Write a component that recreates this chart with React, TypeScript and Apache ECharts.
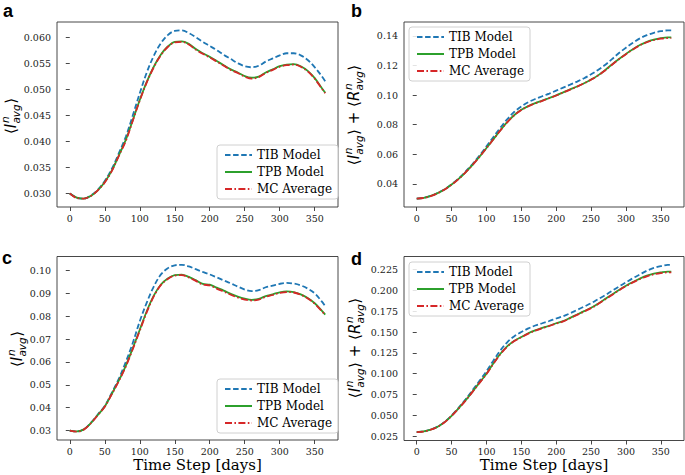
import React, { useEffect, useRef } from "react";
import * as echarts from "echarts";

// ---------------- data ----------------
const days = [0, 10, 20, 30, 40, 50, 60, 70, 80, 90, 100, 110, 120, 130, 140, 150, 160, 170, 180, 190, 200, 210, 220, 230, 240, 250, 260, 270, 280, 290, 300, 310, 320, 330, 340, 350, 360, 365];
const xTicks = [0, 50, 100, 150, 200, 250, 300, 350];
const seriesNames = ["TIB Model", "TPB Model", "MC Average"];
const panelLetters = ["a", "b", "c", "d"];
const xName = "Time Step [days]";

// panel a: <I_avg>
const aTIB = [0.0300, 0.0292, 0.0290, 0.0296, 0.0307, 0.0324, 0.0347, 0.0377, 0.0409, 0.0450, 0.0493, 0.0533, 0.0565, 0.0589, 0.0605, 0.0613, 0.0614, 0.0609, 0.0601, 0.0592, 0.0584, 0.0576, 0.0567, 0.0559, 0.0551, 0.0545, 0.0543, 0.0546, 0.0554, 0.0560, 0.0566, 0.0570, 0.0570, 0.0566, 0.0557, 0.0543, 0.0526, 0.0516];
const aTPB = [0.0300, 0.0292, 0.0290, 0.0295, 0.0306, 0.0322, 0.0344, 0.0373, 0.0403, 0.0441, 0.0480, 0.0515, 0.0544, 0.0567, 0.0583, 0.0592, 0.0593, 0.0588, 0.0578, 0.0570, 0.0563, 0.0555, 0.0547, 0.0539, 0.0533, 0.0526, 0.0523, 0.0525, 0.0533, 0.0539, 0.0545, 0.0548, 0.0549, 0.0545, 0.0536, 0.0522, 0.0503, 0.0494];
const aMC = [0.0300, 0.0291, 0.0290, 0.0295, 0.0306, 0.0321, 0.0343, 0.0372, 0.0401, 0.0440, 0.0479, 0.0514, 0.0543, 0.0566, 0.0582, 0.0591, 0.0592, 0.0587, 0.0577, 0.0569, 0.0562, 0.0554, 0.0546, 0.0538, 0.0532, 0.0525, 0.0521, 0.0524, 0.0532, 0.0538, 0.0544, 0.0547, 0.0548, 0.0544, 0.0535, 0.0521, 0.0502, 0.0493];

// panel b: <I_avg> + <R_avg>
const bTIB = [0.0300, 0.0305, 0.0318, 0.0338, 0.0363, 0.0397, 0.0436, 0.0482, 0.0534, 0.0591, 0.0653, 0.0716, 0.0780, 0.0838, 0.0887, 0.0923, 0.0952, 0.0973, 0.0992, 0.1010, 0.1030, 0.1050, 0.1070, 0.1091, 0.1114, 0.1140, 0.1170, 0.1203, 0.1243, 0.1284, 0.1320, 0.1353, 0.1383, 0.1405, 0.1421, 0.1432, 0.1437, 0.1437];
const bTPB = [0.0300, 0.0305, 0.0318, 0.0337, 0.0362, 0.0395, 0.0433, 0.0478, 0.0528, 0.0583, 0.0642, 0.0702, 0.0762, 0.0818, 0.0865, 0.0900, 0.0925, 0.0945, 0.0962, 0.0980, 0.0998, 0.1018, 0.1038, 0.1058, 0.1080, 0.1105, 0.1133, 0.1168, 0.1207, 0.1244, 0.1278, 0.1310, 0.1338, 0.1360, 0.1375, 0.1385, 0.1390, 0.1390];
const bMC = [0.0300, 0.0304, 0.0317, 0.0336, 0.0361, 0.0394, 0.0432, 0.0477, 0.0527, 0.0582, 0.0641, 0.0701, 0.0761, 0.0817, 0.0864, 0.0899, 0.0924, 0.0944, 0.0961, 0.0979, 0.0997, 0.1017, 0.1037, 0.1057, 0.1079, 0.1104, 0.1132, 0.1166, 0.1205, 0.1242, 0.1276, 0.1308, 0.1336, 0.1357, 0.1372, 0.1381, 0.1385, 0.1385];

// panel c: <I_avg>
const cTIB = [0.0300, 0.0296, 0.0305, 0.0333, 0.0370, 0.0408, 0.0465, 0.0526, 0.0600, 0.0683, 0.0778, 0.0860, 0.0930, 0.0982, 0.1010, 0.1023, 0.1025, 0.1018, 0.1006, 0.0994, 0.0983, 0.0970, 0.0957, 0.0944, 0.0930, 0.0917, 0.0910, 0.0914, 0.0927, 0.0934, 0.0942, 0.0946, 0.0943, 0.0935, 0.0921, 0.0900, 0.0865, 0.0844];
const cTPB = [0.0300, 0.0296, 0.0305, 0.0332, 0.0368, 0.0405, 0.0460, 0.0518, 0.0583, 0.0660, 0.0741, 0.0822, 0.0890, 0.0938, 0.0965, 0.0980, 0.0982, 0.0972, 0.0958, 0.0942, 0.0938, 0.0925, 0.0912, 0.0898, 0.0886, 0.0877, 0.0872, 0.0876, 0.0888, 0.0896, 0.0905, 0.0909, 0.0906, 0.0896, 0.0880, 0.0857, 0.0825, 0.0807];
const cMC = [0.0300, 0.0295, 0.0304, 0.0331, 0.0367, 0.0404, 0.0459, 0.0516, 0.0580, 0.0656, 0.0737, 0.0818, 0.0887, 0.0936, 0.0963, 0.0978, 0.0980, 0.0970, 0.0955, 0.0939, 0.0935, 0.0921, 0.0908, 0.0894, 0.0882, 0.0873, 0.0869, 0.0873, 0.0885, 0.0893, 0.0902, 0.0906, 0.0904, 0.0894, 0.0878, 0.0855, 0.0823, 0.0805];

// panel d: <I_avg> + <R_avg>
const dTIB = [0.0300, 0.0308, 0.0331, 0.0367, 0.0423, 0.0500, 0.0592, 0.0692, 0.0802, 0.0915, 0.1030, 0.1160, 0.1280, 0.1380, 0.1450, 0.1500, 0.1543, 0.1578, 0.1605, 0.1632, 0.1662, 0.1690, 0.1725, 0.1765, 0.1805, 0.1845, 0.1893, 0.1940, 0.1993, 0.2045, 0.2095, 0.2145, 0.2190, 0.2235, 0.2268, 0.2290, 0.2305, 0.2305];
const dTPB = [0.0300, 0.0308, 0.0330, 0.0365, 0.0420, 0.0495, 0.0585, 0.0680, 0.0785, 0.0893, 0.1000, 0.1125, 0.1240, 0.1330, 0.1395, 0.1440, 0.1485, 0.1520, 0.1550, 0.1575, 0.1605, 0.1630, 0.1670, 0.1710, 0.1750, 0.1790, 0.1840, 0.1895, 0.1950, 0.2005, 0.2055, 0.2100, 0.2140, 0.2175, 0.2200, 0.2215, 0.2225, 0.2225];
const dMC = [0.0300, 0.0307, 0.0329, 0.0364, 0.0419, 0.0494, 0.0583, 0.0678, 0.0782, 0.0890, 0.0996, 0.1121, 0.1236, 0.1326, 0.1391, 0.1436, 0.1481, 0.1517, 0.1547, 0.1572, 0.1602, 0.1627, 0.1666, 0.1706, 0.1746, 0.1786, 0.1835, 0.1890, 0.1945, 0.2000, 0.2050, 0.2095, 0.2135, 0.2168, 0.2192, 0.2207, 0.2215, 0.2215];

const aYTicks = [0.030, 0.035, 0.040, 0.045, 0.050, 0.055, 0.060];
const bYTicks = [0.04, 0.06, 0.08, 0.10, 0.12, 0.14];
const cYTicks = [0.03, 0.04, 0.05, 0.06, 0.07, 0.08, 0.09, 0.10];
const dYTicks = [0.025, 0.050, 0.075, 0.100, 0.125, 0.150, 0.175, 0.200, 0.225];

// ---------------- layout / style ----------------
const panels = [
  { series: [aTIB, aTPB, aMC], ticks: aYTicks, dec: 3, grid: { left: 57, top: 22, width: 281, height: 185 }, legend: { left: 217, top: 145 }, label: "I", labelPos: [11, 116], letterPos: [3, 1.5], xName: false },
  { series: [bTIB, bTPB, bMC], ticks: bYTicks, dec: 2, grid: { left: 404, top: 22, width: 280, height: 185 }, legend: { left: 409, top: 27 }, label: "IR", labelPos: [354, 115], letterPos: [351, 1.5], xName: false },
  { series: [cTIB, cTPB, cMC], ticks: cYTicks, dec: 2, grid: { left: 57, top: 256.5, width: 281, height: 183.5 }, legend: { left: 217, top: 379 }, label: "I", labelPos: [17, 349], letterPos: [2, 248.5], xName: true },
  { series: [dTIB, dTPB, dMC], ticks: dYTicks, dec: 3, grid: { left: 404, top: 256.5, width: 280, height: 184 }, legend: { left: 409, top: 262 }, label: "IR", labelPos: [355, 348], letterPos: [351, 250], xName: true },
];

const colors = ["#1f77b4", "#2ca02c", "#d62728"];
const dashes: any[] = [[5.5, 2.6], "solid", [7, 2.4, 1.6, 2.4]];
const serif = "DejaVu Serif";
const axisColor = "#333";

const measCtx = document.createElement("canvas").getContext("2d") as CanvasRenderingContext2D;
function tw(text: string, size: number, italic: boolean) {
  measCtx.font = `${italic ? "italic " : ""}${size}px "DejaVu Sans"`;
  return measCtx.measureText(text).width;
}

type Tok = { t: string; it?: boolean } | { sup: string; sub: string };

function mathLabel(tokens: Tok[], cx: number, cy: number) {
  const M = 15;
  const S = 10.5;
  const pieces: any[] = [];
  let x = 0;
  const mk = (px: number, py: number, text: string, size: number, italic: boolean) => ({
    type: "text",
    x: px,
    y: py,
    style: {
      text,
      fontSize: size,
      fontFamily: "DejaVu Sans",
      fontStyle: italic ? "italic" : "normal",
      fill: "#000",
      align: "left",
      verticalAlign: "middle",
    },
  });
  for (const tk of tokens) {
    if ("sup" in tk) {
      pieces.push({ px: x + 0.7, py: -5.6, text: tk.sup, size: S, it: true });
      pieces.push({ px: x + 0.2, py: 4.9, text: tk.sub, size: S, it: true });
      x += Math.max(tw(tk.sup, S, true) + 0.7, tw(tk.sub, S, true) + 0.2) + 0.5;
    } else {
      pieces.push({ px: x, py: 0, text: tk.t, size: M, it: !!tk.it });
      x += tw(tk.t, M, !!tk.it);
    }
  }
  const half = x / 2;
  return {
    type: "group",
    x: cx,
    y: cy,
    rotation: Math.PI / 2,
    silent: true,
    children: pieces.map((p) => mk(p.px - half, p.py, p.text, p.size, p.it)),
  };
}

const tokI: Tok[] = [{ t: "\u27E8" }, { t: "I", it: true }, { sup: "n", sub: "avg" }, { t: "\u27E9" }];
const tokIR: Tok[] = [
  { t: "\u27E8" }, { t: "I", it: true }, { sup: "n", sub: "avg" }, { t: "\u27E9" },
  { t: " + " },
  { t: "\u27E8" }, { t: "R", it: true }, { sup: "n", sub: "avg" }, { t: "\u27E9" },
];

function buildOption() {
  const grid: any[] = [];
  const xAxis: any[] = [];
  const yAxis: any[] = [];
  const series: any[] = [];
  const legend: any[] = [];
  const graphics: any[] = [];

  panels.forEach((p, i) => {
    grid.push({ ...p.grid, show: true, borderColor: axisColor, borderWidth: 0.9, backgroundColor: "transparent", containLabel: false });
    xAxis.push({
      type: "value",
      gridIndex: i,
      min: (v: any) => v.min - 0.05 * (v.max - v.min),
      max: (v: any) => v.max + 0.05 * (v.max - v.min),
      axisLine: { show: false },
      splitLine: { show: false },
      axisTick: { show: true, customValues: xTicks, length: 4, lineStyle: { color: axisColor, width: 0.9 } },
      axisLabel: { customValues: xTicks, fontFamily: serif, fontSize: 9.5, color: "#222", margin: 6, formatter: (v: number) => String(v) },
      name: p.xName ? xName : "",
      nameLocation: "middle",
      nameGap: 17,
      nameTextStyle: { fontFamily: serif, fontSize: 15, color: "#000" },
    });
    yAxis.push({
      type: "value",
      gridIndex: i,
      min: (v: any) => v.min - 0.05 * (v.max - v.min),
      max: (v: any) => v.max + 0.05 * (v.max - v.min),
      axisLine: { show: false },
      splitLine: { show: false },
      axisTick: { show: true, customValues: p.ticks, length: 4, lineStyle: { color: axisColor, width: 0.9 } },
      axisLabel: { customValues: p.ticks, fontFamily: serif, fontSize: 9.5, color: "#222", margin: 6, formatter: (v: number) => v.toFixed(p.dec) },
    });
    p.series.forEach((vals, k) => {
      series.push({
        type: "line",
        name: seriesNames[k],
        xAxisIndex: i,
        yAxisIndex: i,
        data: days.map((d, j) => [d, vals[j]]),
        showSymbol: false,
        symbol: "none",
        smooth: 0.35,
        color: colors[k],
        lineStyle: { color: colors[k], width: 1.8, type: dashes[k] },
        z: 2 + k,
      });
    });
    legend.push({
      data: seriesNames,
      orient: "vertical",
      left: p.legend.left,
      top: p.legend.top,
      itemWidth: 27,
      itemHeight: 12,
      itemGap: 5,
      padding: [4, 6, 4, 7],
      borderColor: "#d0d0d0",
      borderWidth: 1,
      borderRadius: 3,
      backgroundColor: "rgba(255,255,255,0.85)",
      selectedMode: false,
      itemStyle: { opacity: 0, color: "rgba(0,0,0,0)", borderColor: "rgba(0,0,0,0)", borderWidth: 0 },
      textStyle: { fontFamily: serif, fontSize: 12, color: "#000" },
    });
    graphics.push(mathLabel(p.label === "I" ? tokI : tokIR, p.labelPos[0], p.labelPos[1]));
    graphics.push({
      type: "text",
      x: p.letterPos[0],
      y: p.letterPos[1],
      silent: true,
      style: {
        text: panelLetters[i],
        fontSize: 18,
        fontWeight: "bold",
        fontFamily: "Liberation Sans",
        fill: "#000",
        align: "left",
        verticalAlign: "top",
      },
    });
  });

  return {
    animation: false,
    backgroundColor: "#fff",
    grid,
    xAxis,
    yAxis,
    series,
    legend,
    graphic: { elements: graphics },
  };
}

export default function App() {
  const ref = useRef<HTMLDivElement>(null);
  useEffect(() => {
    if (!ref.current) return;
    const chart = echarts.init(ref.current, undefined, { renderer: "svg" });
    chart.setOption(buildOption() as any);
    return () => chart.dispose();
  }, []);
  return (
    <div
      ref={ref}
      style={{ position: "fixed", left: 0, top: 0, width: 685, height: 475, background: "#fff" }}
    />
  );
}
